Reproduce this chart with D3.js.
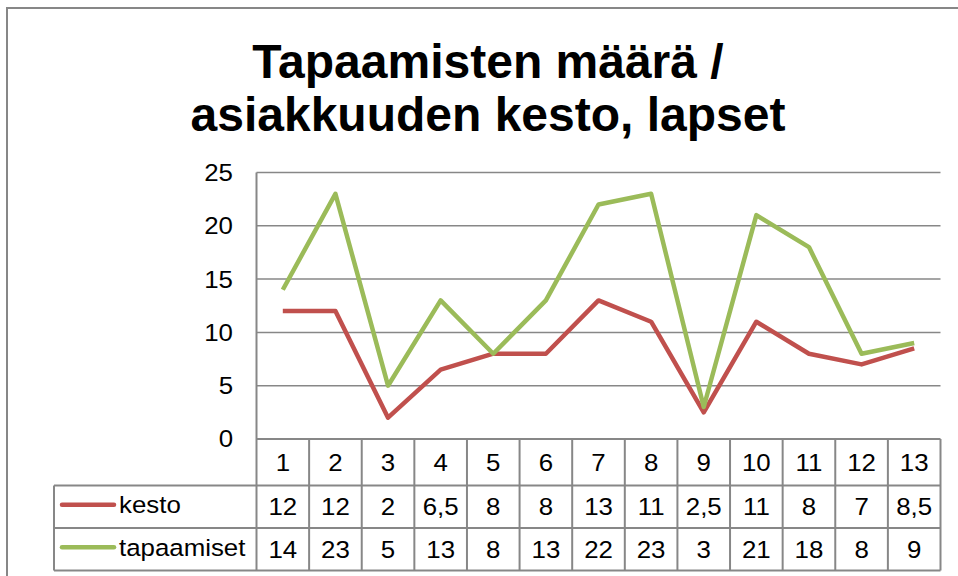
<!DOCTYPE html>
<html>
<head>
<meta charset="utf-8">
<script src="https://cdn.jsdelivr.net/npm/d3@7"></script>
<style>
  body { margin: 0; background: #fff; }
  svg { display: block; font-family: "Liberation Sans", Arial, sans-serif; }
</style>
</head>
<body>
<svg id="chart" width="958" height="576"></svg>
<script>
// data
const categories = ["1", "2", "3", "4", "5", "6", "7", "8", "9", "10", "11", "12", "13"];
const kesto = [12, 12, 2, 6.5, 8, 8, 13, 11, 2.5, 11, 8, 7, 8.5];
const tapaamiset = [14, 23, 5, 13, 8, 13, 22, 23, 3, 21, 18, 8, 9];
const seriesNames = ["kesto", "tapaamiset"];
const seriesColors = ["#C0504D", "#9BBB59"];
const yTicks = [0, 5, 10, 15, 20, 25];
const titleLines = ["Tapaamisten määrä /", "asiakkuuden kesto, lapset"];

const series = [kesto, tapaamiset].map((vals, i) => ({
  name: seriesNames[i], color: seriesColors[i], values: vals
}));

const svg = d3.select("#chart");
const gridColor = "#878787";
const fs = 23.5, sx = 1.1; // label text is a bit wider than Liberation Sans

// puts a text at (px,py) with the horizontal stretch
const place = (px, py) => `translate(${px},${py}) scale(${sx},1)`;

// outer frame (runs off the right/bottom edge)
svg.append("path")
  .attr("d", "M7,600 L7,8 L980,8")
  .attr("fill", "none")
  .attr("stroke", gridColor)
  .attr("stroke-width", 2);

// title
svg.append("g").selectAll("text")
  .data(titleLines)
  .join("text")
  .attr("x", 488)
  .attr("y", (d, i) => 78 + i * 53)
  .attr("text-anchor", "middle")
  .attr("font-size", 48)
  .attr("font-weight", "bold")
  .attr("fill", "#000")
  .text(d => d);

// scales
const left = 256.5, right = 940.5;
const x = d3.scaleBand().domain(categories).range([left, right]);
const y = d3.scaleLinear().domain([0, 25]).range([439, 172.5]);

// gridlines
svg.append("g").selectAll("line")
  .data(yTicks.filter(d => d > 0))
  .join("line")
  .attr("x1", left).attr("x2", right)
  .attr("y1", d => y(d)).attr("y2", d => y(d))
  .attr("stroke", gridColor)
  .attr("stroke-width", 1.5);

// y tick labels
svg.append("g").selectAll("text")
  .data(yTicks)
  .join("text")
  .attr("transform", d => place(233, y(d)))
  .attr("dy", "0.36em")
  .attr("text-anchor", "end")
  .attr("font-size", fs)
  .attr("fill", "#000")
  .text(d => d);

// data table
const rowY = [439, 485.5, 528, 570.5];
const legendLeft = 54;
const table = svg.append("g");
const cx = c => x(c) + x.bandwidth() / 2;

// header row: categories
table.selectAll(".hdr")
  .data(categories)
  .join("text")
  .attr("class", "hdr")
  .attr("transform", d => place(cx(d), (rowY[0] + rowY[1]) / 2))
  .attr("dy", "0.36em")
  .attr("text-anchor", "middle")
  .attr("font-size", fs)
  .text(d => d);

series.forEach((s, r) => {
  const yc = (rowY[r + 1] + rowY[r + 2]) / 2;
  table.append("g").selectAll("text")
    .data(s.values)
    .join("text")
    .attr("transform", (d, i) => place(cx(categories[i]), yc))
    .attr("dy", "0.36em")
    .attr("text-anchor", "middle")
    .attr("font-size", fs)
    .text(d => String(d).replace(".", ","));

  // legend key
  table.append("line")
    .attr("x1", 62).attr("x2", 114)
    .attr("y1", yc - 2).attr("y2", yc - 2)
    .attr("stroke", s.color)
    .attr("stroke-width", 4.5)
    .attr("stroke-linecap", "round");
  table.append("text")
    .attr("transform", place(119, yc - 2))
    .attr("dy", "0.36em")
    .attr("font-size", fs)
    .text(s.name);
});

// table grid lines
const tableLines = [];
tableLines.push([left, rowY[0], right, rowY[0]]);
tableLines.push([legendLeft, rowY[1], right, rowY[1]]);
tableLines.push([legendLeft, rowY[2], right, rowY[2]]);
tableLines.push([legendLeft, rowY[3], right, rowY[3]]);
tableLines.push([legendLeft, rowY[1], legendLeft, rowY[3]]);
categories.forEach(c => tableLines.push([x(c), rowY[0], x(c), rowY[3]]));
tableLines.push([right, rowY[0], right, rowY[3]]);

table.append("g").selectAll("line")
  .data(tableLines)
  .join("line")
  .attr("x1", d => d[0]).attr("y1", d => d[1])
  .attr("x2", d => d[2]).attr("y2", d => d[3])
  .attr("stroke", gridColor)
  .attr("stroke-width", 2);

// y axis line
svg.append("line")
  .attr("x1", left).attr("x2", left)
  .attr("y1", y(25)).attr("y2", rowY[0])
  .attr("stroke", gridColor)
  .attr("stroke-width", 2);

// series lines
const line = d3.line()
  .x((d, i) => cx(categories[i]))
  .y(d => y(d));

svg.append("g").selectAll("path")
  .data(series)
  .join("path")
  .attr("d", d => line(d.values))
  .attr("fill", "none")
  .attr("stroke", d => d.color)
  .attr("stroke-width", 4.5)
  .attr("stroke-linejoin", "round");
</script>
</body>
</html>
